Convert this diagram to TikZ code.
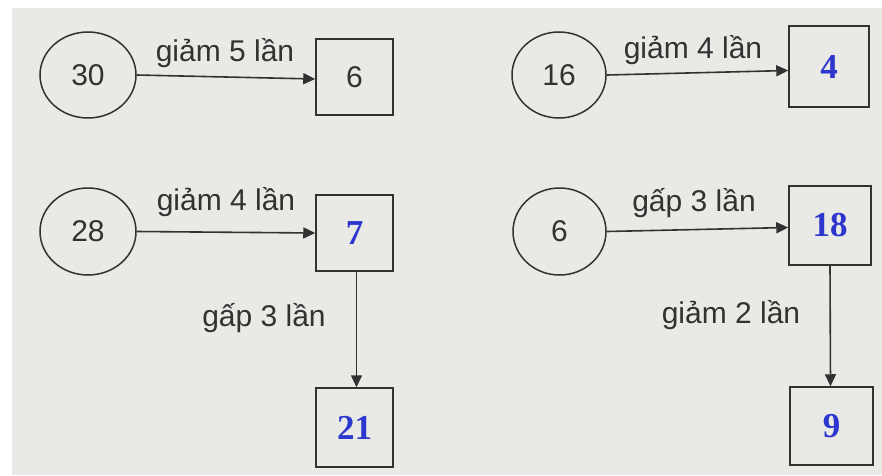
\documentclass[tikz,border=0pt]{standalone}
\usepackage{fontspec}
\setmainfont{Liberation Sans}
\newfontfamily\serifnum{Liberation Serif}
\usetikzlibrary{shapes.geometric,arrows.meta}
\definecolor{paper}{RGB}{233,233,229}
\definecolor{ink}{RGB}{50,50,50}
\definecolor{ansblue}{RGB}{45,55,205}
\tikzset{
  numell/.style={ellipse,draw=ink,line width=1.5pt,inner sep=0pt,font=\fontsize{30}{32}\selectfont,text=ink},
  numbox/.style={rectangle,draw=ink,line width=1.5pt,inner sep=0pt,font=\fontsize{30}{32}\selectfont,text=ink},
  ansbox/.style={rectangle,draw=ink,line width=1.5pt,inner sep=0pt,font=\serifnum\bfseries\fontsize{35}{37}\selectfont,text=ansblue},
  lbl/.style={font=\fontsize{30}{32}\selectfont,text=ink,inner sep=0pt},
  conn/.style={draw=ink,line width=1.6pt,-{Triangle[length=12pt,width=11pt]}}
}
\begin{document}
\begin{tikzpicture}[x=1pt,y=1pt]
\useasboundingbox (0,0) rectangle (882,475);
\fill[white] (0,0) rectangle (882,475);
\fill[paper] (12,0) rectangle (882,467);
% row 1
\node[numell,minimum width=96pt,minimum height=86pt] (c30) at (88,400) {30};
\node[numbox,minimum width=77pt,minimum height=76pt] (b6) at (354.5,398) {6};
\node[lbl] (l1) at (225,422) {giảm 5 lần};
\node[numell,minimum width=94pt,minimum height=86pt] (c16) at (559,400) {16};
\node[ansbox,minimum width=80pt,minimum height=81pt] (b4) at (829,408.5) {4};
\node[lbl] (l2) at (693,425) {giảm 4 lần};
% row 2
\node[numell,minimum width=96pt,minimum height=87pt] (c28) at (88,243.5) {28};
\node[ansbox,minimum width=77pt,minimum height=76pt] (b7) at (354.5,242) {7};
\node[lbl] (l3) at (226,273) {giảm 4 lần};
\node[numell,minimum width=93pt,minimum height=87pt] (c6) at (559.5,243.5) {6};
\node[ansbox,minimum width=82pt,minimum height=79pt] (b18) at (830,249.5) {18};
\node[lbl] (l4) at (694,272) {gấp 3 lần};
% row 3
\node[ansbox,minimum width=77pt,minimum height=79pt] (b21) at (354.5,47.5) {21};
\node[lbl] (l5) at (264,157) {gấp 3 lần};
\node[ansbox,minimum width=83pt,minimum height=78pt] (b9) at (831.5,49) {9};
\node[lbl] (l6) at (731,160) {giảm 2 lần};
% connectors
\draw[conn] (c30.east) -- ([yshift=-2pt]b6.west);
\draw[conn] (c16.east) -- ([yshift=-4pt]b4.west);
\draw[conn] (c28.east) -- (b7.west);
\draw[conn] (c6.east) -- ([yshift=-2pt]b18.west);
\draw[conn] ([xshift=2pt]b7.south) -- ([xshift=2pt]b21.north);
\draw[conn] (b18.south) -- ([xshift=-1pt]b9.north);
\end{tikzpicture}
\end{document}
